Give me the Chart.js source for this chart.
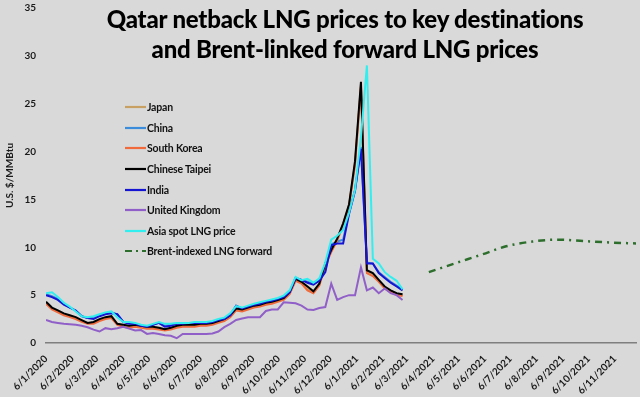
<!DOCTYPE html>
<html>
<head>
<meta charset="utf-8">
<script src="https://cdn.jsdelivr.net/npm/chart.js@4.4.1/dist/chart.umd.min.js"></script>
<style>
  html, body { margin: 0; padding: 0; background: #d9d9d9; }
  #wrap { position: relative; width: 640px; height: 397px; font-family: Lato, "Open Sans", sans-serif; }
  #titulo { position: absolute; left: 45px; top: 4px; width: 600px; text-align: center; font-weight: 900; font-size: 24px; line-height: 30px; color: #000; letter-spacing: -0.2px; }
  #legenda { position: absolute; left: 125px; top: 97px; font-weight: bold; font-size: 10.5px; letter-spacing: -0.2px; color: #111; }
  .item { height: 20.6px; display: flex; align-items: center; }
  .item svg { width: 21px; height: 4px; margin-right: 1px; }
</style>
</head>
<body>
<div id="wrap">
  <canvas id="grafico" width="640" height="397"></canvas>
  <div id="titulo">Qatar netback LNG prices to key destinations<br>and Brent-linked forward LNG prices</div>
  <div id="legenda"></div>
</div>
<script>
//  Data (weekly from 6 Jan 2020, U.S. $/MMBtu) //
const startDate = '2020-01-06';

const japan = [4.2,3.6,3.3,3.0,2.8,2.6,2.3,2.1,2.1,2.4,2.6,2.7,2.0,1.8,1.7,1.8,1.7,1.6,1.6,1.5,1.4,1.5,1.7,1.8,1.8,1.8,1.9,1.9,2.0,2.2,2.4,2.8,3.5,3.4,3.6,3.8,3.9,4.1,4.2,4.4,4.6,5.2,6.6,6.3,5.6,5.3,6.1,8.2,9.6,10.8,12.4,14.4,18.8,27.0,7.5,7.2,6.5,5.8,5.4,5.1,5.0];
const china = [5.1,4.9,4.6,4.1,3.7,3.4,2.8,2.6,2.6,2.9,3.1,3.2,3.0,2.2,2.1,2.0,1.8,1.7,1.9,2.1,1.8,1.9,2.0,2.0,2.1,2.1,2.1,2.2,2.2,2.4,2.5,2.9,3.9,3.6,3.8,4.0,4.1,4.3,4.4,4.6,4.8,5.3,6.8,6.6,6.4,6.2,6.6,7.6,10.3,10.6,10.8,13.6,16.0,20.5,8.4,8.3,7.4,6.9,6.4,6.0,5.6];
const southKorea = [4.1,3.5,3.2,2.9,2.7,2.5,2.2,2.0,2.0,2.3,2.5,2.6,1.9,1.7,1.6,1.7,1.6,1.5,1.5,1.4,1.3,1.4,1.6,1.7,1.7,1.7,1.8,1.8,1.9,2.1,2.3,2.7,3.4,3.3,3.5,3.7,3.8,4.0,4.1,4.3,4.5,5.1,6.5,6.2,5.5,5.2,6.0,8.1,9.5,10.7,12.3,14.3,18.6,26.8,7.3,7.0,6.4,5.7,5.3,5.0,4.9];
const chineseTaipei = [4.3,3.7,3.4,3.1,2.9,2.7,2.4,2.1,2.2,2.5,2.7,2.8,2.0,1.9,1.8,1.9,1.8,1.7,1.7,1.6,1.45,1.6,1.8,1.9,1.9,1.9,2.0,2.0,2.1,2.3,2.5,2.9,3.6,3.5,3.7,3.9,4.0,4.2,4.3,4.5,4.7,5.3,6.7,6.4,5.9,5.4,6.2,8.3,9.7,10.9,12.5,14.5,19.0,27.3,7.6,7.3,6.6,5.9,5.5,5.2,5.1];
const india = [5.0,4.8,4.5,4.0,3.7,3.4,2.8,2.6,2.5,2.8,3.0,3.1,3.0,2.2,2.0,2.0,1.8,1.7,1.9,2.1,1.7,1.8,2.0,2.0,2.1,2.1,2.1,2.1,2.2,2.4,2.5,2.9,3.9,3.6,3.8,4.0,4.1,4.3,4.4,4.6,4.8,5.3,6.8,6.6,6.3,6.1,6.5,7.4,10.2,10.4,10.4,13.5,15.9,20.3,8.3,8.3,7.3,6.8,6.3,5.9,5.5];
const unitedKingdom = [2.4,2.2,2.1,2.0,1.95,1.9,1.8,1.65,1.4,1.2,1.55,1.45,1.55,1.7,1.5,1.3,1.35,0.95,1.05,0.95,0.8,0.75,0.5,0.95,0.95,0.95,0.95,0.95,1.0,1.2,1.65,2.0,2.4,2.55,2.7,2.7,2.7,3.35,3.5,3.5,4.25,4.2,4.15,3.9,3.5,3.45,3.65,3.75,6.2,4.5,4.8,5.0,5.0,7.9,5.5,5.8,5.2,5.7,5.2,5.0,4.5];
const asiaSpot = [5.2,5.3,4.8,4.2,3.8,3.3,2.8,2.7,2.8,3.0,3.2,3.3,2.7,2.2,2.2,2.1,1.9,1.8,2.0,2.2,2.0,2.0,2.1,2.1,2.1,2.2,2.2,2.2,2.3,2.5,2.65,3.1,3.85,3.7,3.9,4.1,4.25,4.4,4.55,4.7,4.95,5.5,6.9,6.55,6.7,6.3,6.75,8.4,10.8,11.2,11.8,13.6,16.0,21.5,29.0,8.8,8.3,7.4,6.9,6.5,5.6];

// Brent-indexed forward, monthly
const forwardMonths = ['2021-04-01','2021-05-01','2021-06-01','2021-07-01','2021-08-01','2021-09-01','2021-10-01','2021-11-01','2021-12-01'];
const brentForward = [7.4,8.3,9.2,10.1,10.6,10.8,10.65,10.5,10.4];

const xLabels = ['6/1/2020','6/2/2020','6/3/2020','6/4/2020','6/5/2020','6/6/2020','6/7/2020','6/8/2020','6/9/2020','6/10/2020','6/11/2020','6/12/2020',
  '6/1/2021','6/2/2021','6/3/2021','6/4/2021','6/5/2021','6/6/2021','6/7/2021','6/8/2021','6/9/2021','6/10/2021','6/11/2021'];
const yTicks = [0, 5, 10, 15, 20, 25, 30, 35];

const seriesNames = ['Japan','China','South Korea','Chinese Taipei','India','United Kingdom','Asia spot LNG price','Brent-indexed LNG forward'];
const seriesColors = ['#c8a064','#3c8cdc','#f06a3c','#000000','#1414d2','#9060c8','#33eeee','#2d6e2d'];

//  Helpers //
const DAY = 86400000;
const t0 = Date.parse(startDate);
function daysFromIso(iso) { return Math.round((Date.parse(iso) - t0) / DAY); }
function daysFromLabel(label) {
  const [d, m, y] = label.split('/').map(Number);
  return Math.round((Date.UTC(y, m - 1, d) - t0) / DAY);
}
const weekly = arr => arr.map((v, i) => ({ x: i * 7, y: v }));

const weeklySeries = [japan, china, southKorea, chineseTaipei, india, unitedKingdom, asiaSpot];

const datasets = weeklySeries.map((s, i) => ({
  label: seriesNames[i],
  data: weekly(s),
  borderColor: seriesColors[i],
  borderWidth: 2,
  pointRadius: 0,
  tension: 0,
  order: 8 - i
}));
datasets.push({
  label: seriesNames[7],
  data: forwardMonths.map((m, i) => ({ x: daysFromIso(m), y: brentForward[i] })),
  borderColor: seriesColors[7],
  borderWidth: 2.5,
  borderDash: [7, 5, 2, 5],
  pointRadius: 0,
  cubicInterpolationMode: 'monotone',
  order: 0
});

//  Legend (HTML, inside plot) //
const legenda = document.getElementById('legenda');
legenda.innerHTML = seriesNames.map((n, i) => {
  const dash = i === 7 ? 'stroke-dasharray="7 4 2 4"' : '';
  return `<div class="item"><svg viewBox="0 0 21 4"><line x1="0" y1="2" x2="21" y2="2" stroke="${seriesColors[i]}" stroke-width="2.2" ${dash}/></svg>${n}</div>`;
}).join('');

//  Chart //
const tickFont = { family: 'Lato, "Open Sans", sans-serif', size: 10, weight: 'bold' };

new Chart(document.getElementById('grafico'), {
  type: 'line',
  data: { datasets },
  options: {
    responsive: false,
    animation: false,
    layout: { padding: { top: 1, right: 4, left: 0, bottom: 0 } },
    plugins: { legend: { display: false }, tooltip: { enabled: false } },
    scales: {
      x: {
        type: 'linear',
        min: 0,
        max: daysFromIso('2021-12-01'),
        grid: { display: false },
        border: { color: '#7f7f7f', width: 1.5 },
        afterBuildTicks: s => { s.ticks = xLabels.map(l => ({ value: daysFromLabel(l) })); },
        afterFit: s => { s.height = 54; },
        ticks: {
          autoSkip: false,
          minRotation: 45,
          maxRotation: 45,
          padding: 2,
          color: '#1a1a1a',
          font: tickFont,
          callback: (v, i) => xLabels[i]
        }
      },
      y: {
        min: 0,
        max: 35,
        grid: { display: false },
        border: { display: false },
        afterBuildTicks: s => { s.ticks = yTicks.map(v => ({ value: v })); },
        afterFit: s => { s.width = 46; },
        ticks: { color: '#1a1a1a', font: tickFont, padding: 2 },
        title: { display: true, text: 'U.S. $/MMBtu', color: '#1a1a1a', font: tickFont, padding: { top: 4, bottom: 0 } }
      }
    }
  }
});
</script>
</body>
</html>
